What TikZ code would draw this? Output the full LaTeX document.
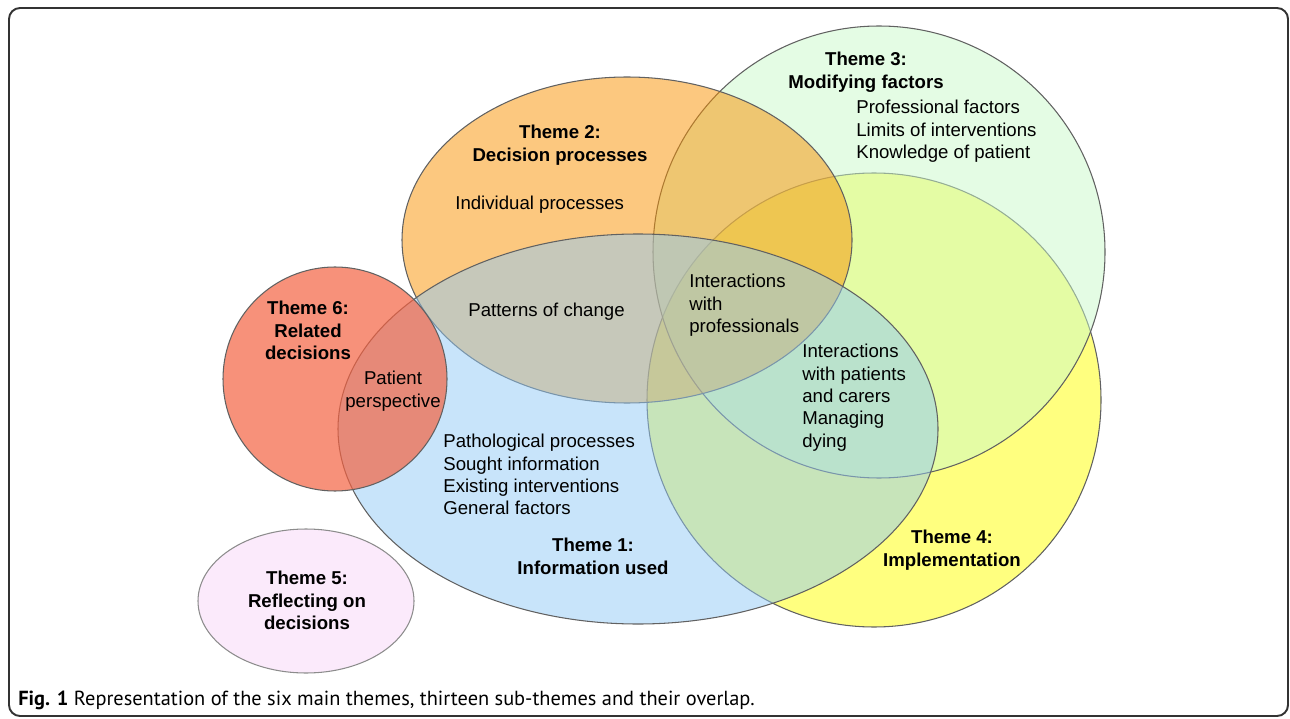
\documentclass[tikz,border=0pt]{standalone}
\usepackage{fontspec}
\setmainfont{Liberation Sans}
\newfontfamily\capfont{PT Sans}
\usepackage{tikz}
\usetikzlibrary{positioning}
\definecolor{colOne}{RGB}{145,201,245}
\definecolor{colTwo}{RGB}{249,145,0}
\definecolor{colThree}{RGB}{201,249,201}
\definecolor{colFour}{RGB}{255,255,0}
\definecolor{colFive}{RGB}{251,234,251}
\definecolor{colSix}{RGB}{244,98,65}
\tikzset{
  x=0.02cm, y=-0.02cm,
  theme/.style = {draw=black!62, line width=0.6pt, fill opacity=0.5},
  title/.style = {font=\bfseries\fontsize{10.6}{12.7}\selectfont,
    align=center, inner sep=0pt, anchor=north},
  sub/.style = {font=\fontsize{10.6}{12.7}\selectfont,
    align=left, inner sep=0pt, anchor=north west},
  frame/.style = {draw=black!80, line width=1.1pt, rounded corners=0.22cm},
}
\begin{document}
\begin{tikzpicture}
  \useasboundingbox (0,0) rectangle (1290,719);
  \draw[frame] (9,8) rectangle (1288,716);
  % theme areas, bottom to top
  \path[theme, fill=colFour]  (874,400) circle [radius=227];
  \path[theme, fill=colThree] (879,252) circle [radius=226];
  \path[theme, fill=colTwo]   (627,240) ellipse [x radius=225, y radius=163];
  \path[theme, fill=colOne]   (638,429) ellipse [x radius=300, y radius=195];
  \path[theme, fill=colSix, fill opacity=0.7] (335,379) circle [radius=112];
  \path[theme, draw=black!45, fill=colFive, fill opacity=1] (306,601) ellipse [x radius=108, y radius=72];
  % titles
  \node (T3) [title] at (866,52)  {Theme 3:\\Modifying factors};
  \node (T2) [title] at (560,125) {Theme 2:\\Decision processes};
  \node (T6) [title] at (308,301) {Theme 6:\\Related\\decisions};
  \node (T1) [title] at (593,538) {Theme 1:\\Information used};
  \node (T4) [title] at (952,530) {Theme 4:\\Implementation};
  \node (T5) [title] at (307,571) {Theme 5:\\Reflecting on\\decisions};
  % sub-themes
  \node (S3) [sub] at (856,100) {Professional factors\\Limits of interventions\\Knowledge of patient};
  \node (S2) [sub] at (455,196) {Individual processes};
  \node (S12) [sub] at (468,303) {Patterns of change};
  \node (S16) [sub, align=center, anchor=north] at (393,371) {Patient\\perspective};
  \node (S123) [sub] at (689,274) {Interactions\\with\\professionals};
  \node (S134) [sub] at (802,344) {Interactions\\with patients\\and carers\\Managing\\dying};
  \node (S1) [sub] at (443,434) {Pathological processes\\Sought information\\Existing interventions\\General factors};
  % caption
  \node (cap) [sub, font=\capfont\fontsize{11.6}{14}\selectfont] at (18,691)
    {\textbf{Fig. 1} Representation of the six main themes, thirteen sub-themes and their overlap.};
\end{tikzpicture}
\end{document}
